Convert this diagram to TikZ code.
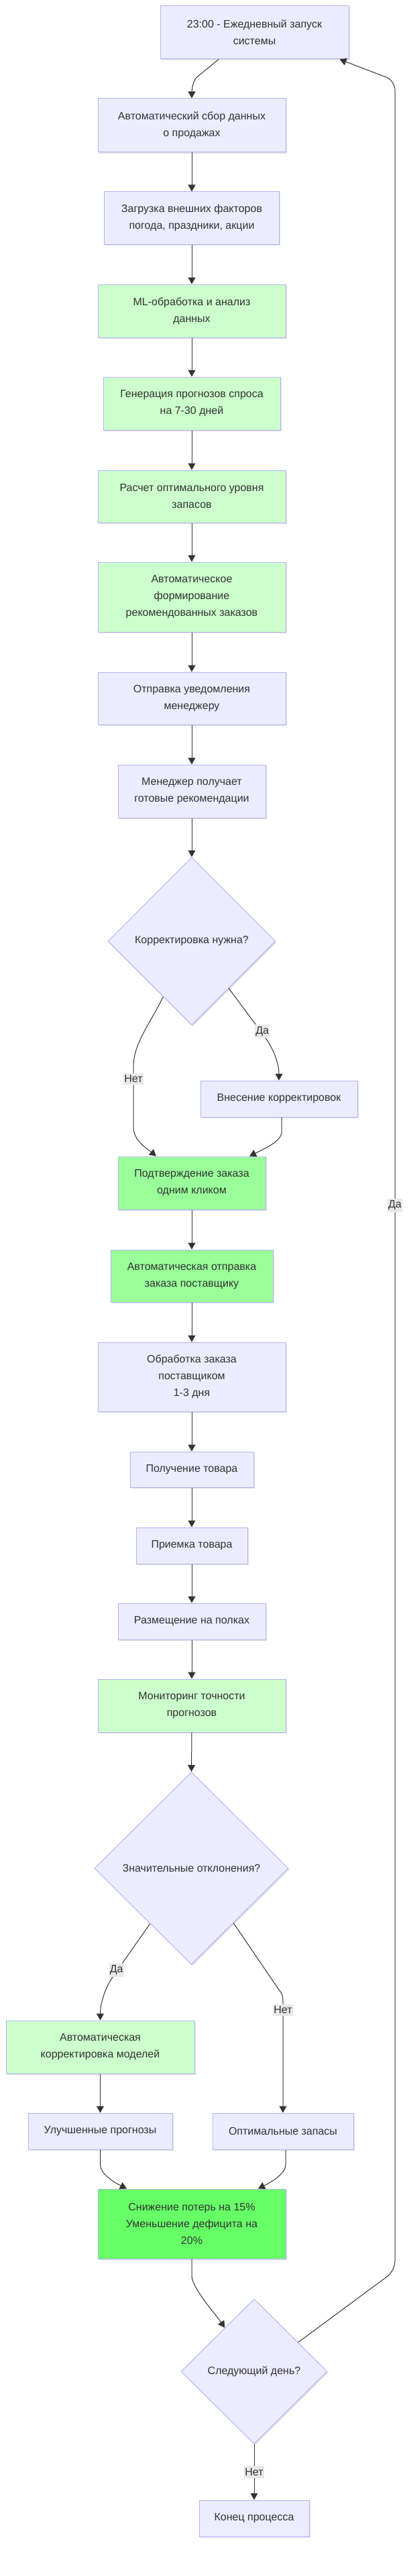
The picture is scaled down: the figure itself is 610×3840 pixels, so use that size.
\documentclass[tikz,border=0pt]{standalone}
\usepackage{fontspec}
\setmainfont{Liberation Sans}
\usetikzlibrary{arrows.meta,shapes.geometric,shadows,calc}
\definecolor{fillc}{HTML}{ECECFF}
\definecolor{bordc}{HTML}{B4B4F5}
\definecolor{g1}{HTML}{CCFFCC}
\definecolor{g2}{HTML}{99FF99}
\definecolor{g3}{HTML}{66FF66}
\definecolor{txt}{HTML}{333333}
\definecolor{lnc}{HTML}{333333}
\definecolor{lblbg}{HTML}{E8E8E8}
\tikzset{
  shd/.style={drop shadow={shadow xshift=1.5pt,shadow yshift=-2pt,fill=black,opacity=0.12}},
  box/.style={draw=bordc,fill=fillc,line width=1pt,inner sep=0pt,align=center,text=txt,
              font=\fontsize{16}{25}\selectfont,shd},
  dec/.style={diamond,aspect=1,draw=bordc,fill=fillc,line width=1pt,inner sep=0pt,align=center,
              text=txt,font=\fontsize{16}{25}\selectfont,shd},
  arr/.style={draw=lnc,line width=1pt,-{Triangle[length=10pt,width=11pt]}},
  elabel/.style={fill=lblbg,text=txt,inner xsep=1pt,inner ysep=3pt,font=\fontsize{16}{20}\selectfont}
}
\begin{document}
\begin{tikzpicture}[x=1pt,y=-1pt]
\useasboundingbox (0,0) rectangle (610,3840);
\fill[white] (0,0) rectangle (610,3840);
% nodes
\node[box,minimum width=281pt,minimum height=79pt] (n1) at (379.5,48.5) {23:00 - Ежедневный запуск\\системы};
\node[box,minimum width=280pt,minimum height=80pt] (n2) at (286,187) {Автоматический сбор данных\\о продажах};
\node[box,minimum width=261pt,minimum height=78pt] (n3) at (286,325) {Загрузка внешних факторов\\погода, праздники, акции};
\node[box,fill=g1,minimum width=280pt,minimum height=79pt] (n4) at (286,463.5) {ML-обработка и анализ\\данных};
\node[box,fill=g1,minimum width=264pt,minimum height=79pt] (n5) at (286,601.5) {Генерация прогнозов спроса\\на 7-30 дней};
\node[box,fill=g1,minimum width=280pt,minimum height=78pt] (n6) at (286,740) {Расчет оптимального уровня\\запасов};
\node[box,fill=g1,minimum width=280pt,minimum height=104pt] (n7) at (286,890) {Автоматическое\\формирование\\рекомендованных заказов};
\node[box,minimum width=280pt,minimum height=78pt] (n8) at (286,1041) {Отправка уведомления\\менеджеру};
\node[box,minimum width=220pt,minimum height=79pt] (n9) at (286,1179.5) {Менеджер получает\\готовые рекомендации};
\node[dec,minimum width=250pt,minimum height=250pt] (d1) at (286,1403) {Корректировка нужна?};
\node[box,minimum width=234pt,minimum height=54pt] (n10) at (416,1638) {Внесение корректировок};
\node[box,fill=g2,minimum width=220pt,minimum height=79pt] (n11) at (286,1763.5) {Подтверждение заказа\\одним кликом};
\node[box,fill=g2,minimum width=242pt,minimum height=78pt] (n12) at (286,1902) {Автоматическая отправка\\заказа поставщику};
\node[box,minimum width=280pt,minimum height=103pt] (n13) at (286,2052.5) {Обработка заказа\\поставщиком\\1-3 дня};
\node[box,minimum width=184pt,minimum height=53pt] (n14) at (286,2190.5) {Получение товара};
\node[box,minimum width=166pt,minimum height=54pt] (n15) at (286,2304) {Приемка товара};
\node[box,minimum width=220pt,minimum height=54pt] (n16) at (286,2417) {Размещение на полках};
\node[box,fill=g1,minimum width=280pt,minimum height=79pt] (n17) at (286,2542.5) {Мониторинг точности\\прогнозов};
\node[dec,minimum width=289pt,minimum height=287pt] (d2) at (285.5,2785) {Значительные отклонения?};
\node[box,fill=g1,minimum width=281pt,minimum height=79pt] (n18) at (149.5,3051.5) {Автоматическая\\корректировка моделей};
\node[box,minimum width=215pt,minimum height=54pt] (n19) at (149.5,3177) {Улучшенные прогнозы};
\node[box,minimum width=210pt,minimum height=54pt] (n20) at (422,3177) {Оптимальные запасы};
\node[box,fill=g3,minimum width=280pt,minimum height=104pt] (n21) at (286,3315) {Снижение потерь на 15\%\\Уменьшение дефицита на\\20\%};
\node[dec,minimum width=218pt,minimum height=216pt] (d3) at (379,3535) {Следующий день?};
\node[box,minimum width=164pt,minimum height=54pt] (n22) at (379,3754) {Конец процесса};
% connectors
\draw[arr] ($(n1.south)+(-53.5,0)$) -- ++(-33,27) .. controls ++(-5,5) and ++(0,-12) .. (n2.north);
\foreach \a/\b in {n2/n3,n3/n4,n4/n5,n5/n6,n6/n7,n7/n8,n8/n9,n9/d1,n11/n12,n12/n13,n13/n14,n14/n15,n15/n16,n16/n17,n17/d2,n18/n19}
  \draw[arr] (\a.south) -- (\b.north);
% d1 branches
\coordinate (nA) at ($(d1.south)+(-87,0)$);
\draw[arr] ($(d1.west)!0.66!(d1.south)$) .. controls +(-21,43) and +(0,-35) .. ($(nA)+(0,62)$)
   -- ($(nA)+(0,152)$) .. controls +(0,20) and +(-12,-10) .. ($(n11.north)+(-53,0)$);
\node[elabel] at ($(nA)+(0,80)$) {Нет};
\coordinate (yA) at ($(d1.east)!0.56!(d1.south)$);
\draw[arr] (yA) -- ($(yA)+(52,70)$) .. controls +(15,20) and +(0,-25) .. (n10.north);
\node[elabel] at ($(yA)+(50,64)$) {Да};
\draw[arr] ($(n10.south)+(4,0)$) -- ++(0,22) .. controls +(0,14) and +(20,-10) .. ($(n11.north)+(86,0)$);
% d2 branches
\coordinate (yB) at ($(d2.west)!0.574!(d2.south)$);
\draw[arr] (yB) -- ++(-54,77) .. controls +(-13,18) and +(0,-25) .. (n18.north);
\node[elabel] at ($(yB)+(-50,69)$) {Да};
\coordinate (nB) at ($(d2.east)!0.567!(d2.south)$);
\draw[arr] (nB) -- ++(66,97) .. controls +(6,8) and +(0,-12) .. ($(n20.north)+(0,-165)$) -- (n20.north);
\node[elabel] at ($(n20.north)+(0,-153)$) {Нет};
% to n21
\draw[arr] (n19.south) -- ++(0,22) .. controls +(0,14) and +(-20,-10) .. ($(n21.north)+(-97,0)$);
\draw[arr] ($(n20.south)+(4,0)$) -- ++(0,22) .. controls +(0,14) and +(20,-10) .. ($(n21.north)+(99,0)$);
\draw[arr] (n21.south) -- ++(0,25) .. controls +(0,18) and +(-12,-18) .. ($(d3.north)!0.4!(d3.west)$);
% d3 branches
\coordinate (rl) at (589,3385);
\coordinate (rt) at (589,120);
\draw[arr,rounded corners=14pt] ($(d3.north)!0.6!(d3.east)$) -- (rl) -- (rt) -- ($(n1.south east)+(-14,0)$);
\node[elabel] at (589,1797) {Да};
\draw[arr] (d3.south) -- (n22.north);
\node[elabel] at ($(d3.south)!0.5!(n22.north)$) {Нет};
\end{tikzpicture}
\end{document}
